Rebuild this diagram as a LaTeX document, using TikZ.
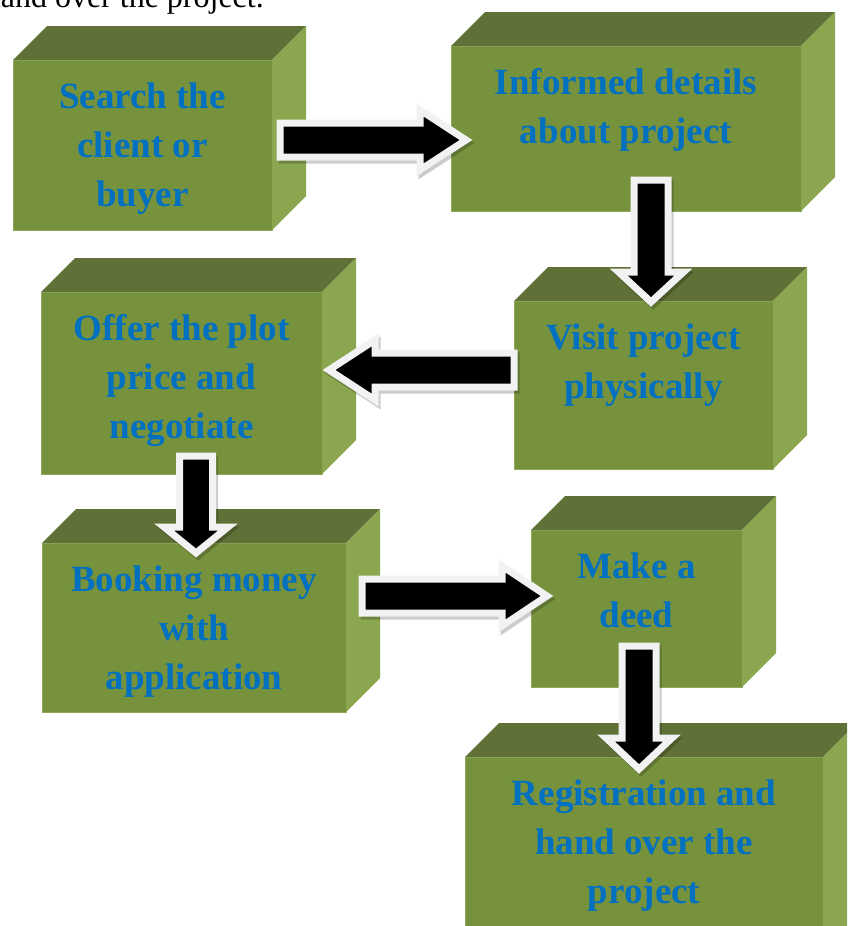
\documentclass[tikz,border=0pt]{standalone}
\usepackage{fontspec}
\setmainfont{Liberation Serif}
\usetikzlibrary{calc}
\definecolor{frontc}{HTML}{77923D}
\definecolor{topc}{HTML}{5F7136}
\definecolor{sidec}{HTML}{8AA64F}
\definecolor{edgec}{HTML}{8FA85C}
\definecolor{txtc}{HTML}{0070C0}
\definecolor{arrw}{HTML}{F2F2F2}
\tikzset{
  frontface/.style={fill=frontc, draw=edgec, line width=0.8pt, inner sep=0pt, outer sep=0pt},
  topface/.style={fill=topc},
  sideface/.style={fill=sidec},
  boxtext/.style={font=\fontsize{37}{49}\selectfont\bfseries, text=txtc, align=center, inner sep=0pt},
  arrowshadow/.style={fill=black, draw=black, opacity=0.2, line width=7pt, line join=miter},
  arrowmain/.style={fill=black, draw=arrw, line width=7pt, line join=miter},
  captext/.style={font=\fontsize{32}{38}\selectfont, inner sep=0pt}
}
% name, cx, cy, width, height
\newcommand\cubebox[5]{%
  \node[frontface, minimum width=#4pt, minimum height=#5pt] (#1) at (#2,#3) {};
  \fill[topface] (#1.north west) -- ++(34,-34) -- ($(#1.north east)+(34,-34)$) -- (#1.north east) -- cycle;
  \fill[sideface] (#1.north east) -- ++(34,-34) -- ($(#1.south east)+(34,-34)$) -- (#1.south east) -- cycle;
}
% box name, text
\newcommand\cubetext[2]{%
  \node[boxtext, anchor=north] (#1-t) at ($(#1.north)+(0,14)$) {\strut #2};
}
% start, end, head length, head half width, shaft half width
\newcommand\blockarrow[5]{%
  \coordinate (#1-hb) at ($(#2)!#3pt!(#1)$);
  \coordinate (#1-p1) at ($(#1)!#5pt!90:(#2)$);
  \coordinate (#1-p2) at ($(#1-hb)!#5pt!90:(#2)$);
  \coordinate (#1-p3) at ($(#1-hb)!#4pt!90:(#2)$);
  \coordinate (#1-p5) at ($(#1-hb)!#4pt!-90:(#2)$);
  \coordinate (#1-p6) at ($(#1-hb)!#5pt!-90:(#2)$);
  \coordinate (#1-p7) at ($(#1)!#5pt!-90:(#2)$);
  \begin{scope}[transform canvas={shift={(2,3)}}]
    \path[arrowshadow] (#1-p1) -- (#1-p2) -- (#1-p3) -- (#2) -- (#1-p5) -- (#1-p6) -- (#1-p7) -- cycle;
  \end{scope}
  \path[arrowmain] (#1-p1) -- (#1-p2) -- (#1-p3) -- (#2) -- (#1-p5) -- (#1-p6) -- (#1-p7) -- cycle;
}
\begin{document}
\begin{tikzpicture}[x=1pt, y=-1pt]
\useasboundingbox (0,0) rectangle (847,926);
\clip (0,0) rectangle (847,926);
\fill[white] (0,0) rectangle (847,926);

\node[captext, anchor=base east] (cap) at (264,7) {hand over the project.};

\cubebox{b1}{142.5}{145}{259}{170}
\cubebox{b2}{626}{128.5}{350}{165}
\cubebox{b3}{643.5}{385}{259}{168}
\cubebox{b4}{181.5}{383}{281}{182}
\cubebox{b5}{194}{627.5}{304}{169}
\cubebox{b6}{636.5}{608.5}{211}{157}
\cubebox{b7}{644}{873.5}{358}{233}

\coordinate (a1s) at (280,140);  \coordinate (a1e) at (466,140);
\coordinate (a2s) at (651,180);  \coordinate (a2e) at (651,302);
\coordinate (a3s) at (514,370);  \coordinate (a3e) at (329,370);
\coordinate (a4s) at (196,456);  \coordinate (a4e) at (196,553);
\coordinate (a5s) at (362,596);  \coordinate (a5e) at (547,596);
\coordinate (a6s) at (639,646);  \coordinate (a6e) at (639,769);

\blockarrow{a1s}{a1e}{46}{30}{17}
\blockarrow{a2s}{a2e}{30}{32.5}{17}
\blockarrow{a3s}{a3e}{46}{30}{17}
\blockarrow{a4s}{a4e}{26}{32}{16.5}
\blockarrow{a5s}{a5e}{45}{30}{17}
\blockarrow{a6s}{a6e}{31}{33}{17}

\cubetext{b1}{Search the\\client or\\buyer}
\cubetext{b2}{Informed details\\about project}
\cubetext{b3}{Visit project\\physically}
\cubetext{b4}{Offer the plot\\price and\\negotiate}
\cubetext{b5}{Booking money\\with\\application}
\cubetext{b6}{Make a\\deed}
\cubetext{b7}{Registration and\\hand over the\\project}
\end{tikzpicture}
\end{document}
